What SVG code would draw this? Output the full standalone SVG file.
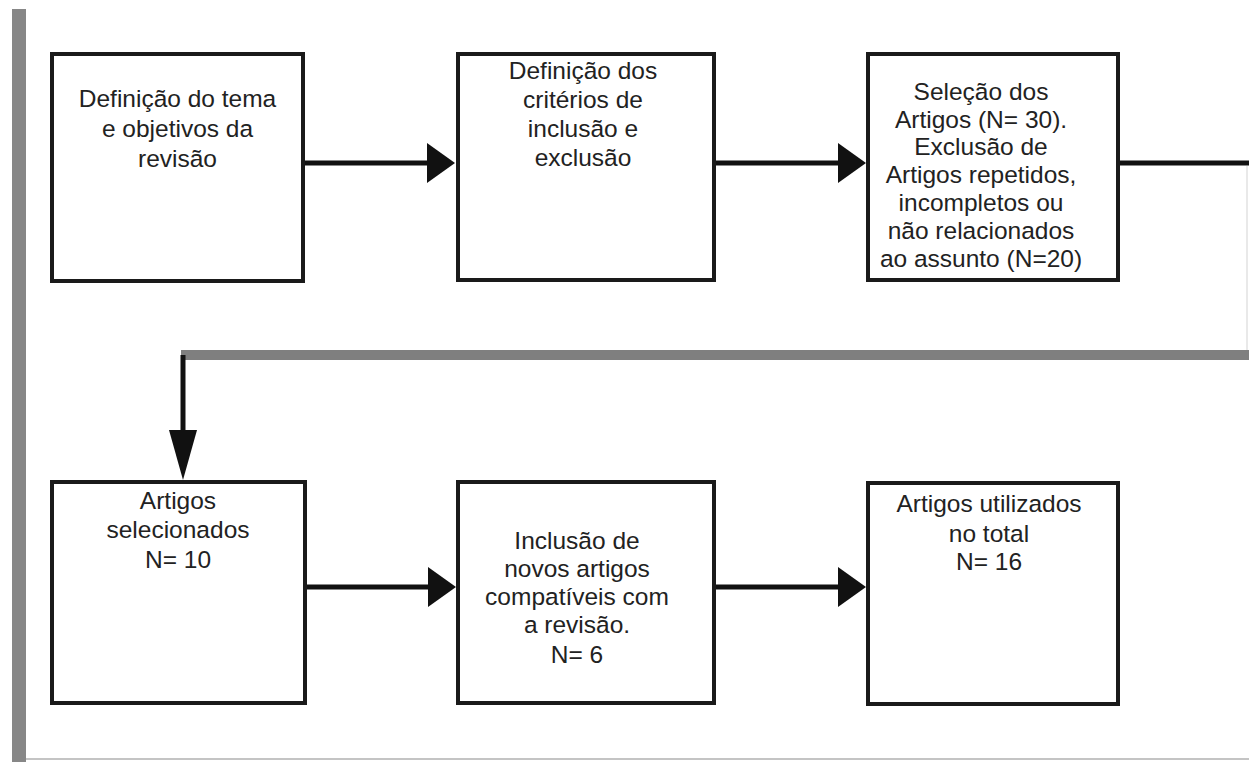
<svg xmlns="http://www.w3.org/2000/svg" width="1249" height="762" viewBox="0 0 1249 762">
<style>
.box{fill:#fff;stroke:#1a1a1a;stroke-width:4}
.lbl{font-family:"Liberation Sans",Arial,sans-serif;font-size:24.5px;fill:#222;text-anchor:middle}
.conn{fill:none;stroke:#111;stroke-width:5}
</style>
<defs>
<marker id="ah" markerUnits="userSpaceOnUse" markerWidth="30" markerHeight="42" refX="14" refY="20" orient="auto"><path d="M0,0 L28,20 L0,40 z" fill="#111"/></marker>
<marker id="ahd" markerUnits="userSpaceOnUse" markerWidth="52" markerHeight="30" refX="25" refY="14" orient="auto"><path d="M0,0 L50,14 L0,28 z" fill="#111"/></marker>
</defs>
<rect width="1249" height="762" fill="#fff"/>
<rect x="12" y="9" width="14" height="753" fill="#878787"/>
<line x1="26" y1="759" x2="1249" y2="759" stroke="#c4c4c4" stroke-width="2"/>
<line x1="1247" y1="166" x2="1247" y2="350" stroke="#e2e2e2" stroke-width="1.5"/>
<g id="connectors">
<path class="conn" d="M305,163 H441" marker-end="url(#ah)"/>
<path class="conn" d="M716,163 H852" marker-end="url(#ah)"/>
<path class="conn" d="M1120,163 H1249"/>
<rect x="181" y="350" width="1068" height="10" fill="#7f7f7f"/>
<path class="conn" d="M183,355 V455" marker-end="url(#ahd)"/>
<path class="conn" d="M307,587 H442" marker-end="url(#ah)"/>
<path class="conn" d="M716,587 H852" marker-end="url(#ah)"/>
</g>
<g id="n1">
<rect class="box" x="52" y="54" width="251" height="227"/>
<text class="lbl"><tspan x="177.5" y="107">Definição do tema</tspan><tspan x="177.5" y="137">e objetivos da</tspan><tspan x="177.5" y="167">revisão</tspan></text>
</g>
<g id="n2">
<rect class="box" x="458" y="54" width="256" height="226"/>
<text class="lbl"><tspan x="583" y="79">Definição dos</tspan><tspan x="583" y="108">critérios de</tspan><tspan x="583" y="137">inclusão e</tspan><tspan x="583" y="166">exclusão</tspan></text>
</g>
<g id="n3">
<rect class="box" x="868" y="54" width="250" height="226"/>
<text class="lbl"><tspan x="981" y="100">Seleção dos</tspan><tspan x="981" y="128">Artigos (N= 30).</tspan><tspan x="981" y="155">Exclusão de</tspan><tspan x="981" y="183">Artigos repetidos,</tspan><tspan x="981" y="211">incompletos ou</tspan><tspan x="981" y="239">não relacionados</tspan><tspan x="981" y="267">ao assunto (N=20)</tspan></text>
</g>
<g id="n4">
<rect class="box" x="52" y="482" width="253" height="221"/>
<text class="lbl"><tspan x="178" y="509">Artigos</tspan><tspan x="178" y="538">selecionados</tspan><tspan x="178" y="568">N= 10</tspan></text>
</g>
<g id="n5">
<rect class="box" x="458" y="482" width="256" height="221"/>
<text class="lbl"><tspan x="577" y="549">Inclusão de</tspan><tspan x="577" y="577">novos artigos</tspan><tspan x="577" y="605">compatíveis com</tspan><tspan x="577" y="633">a revisão.</tspan><tspan x="577" y="663">N= 6</tspan></text>
</g>
<g id="n6">
<rect class="box" x="868" y="483" width="250" height="221"/>
<text class="lbl"><tspan x="989" y="512">Artigos utilizados</tspan><tspan x="989" y="542">no total</tspan><tspan x="989" y="570">N= 16</tspan></text>
</g>
</svg>
